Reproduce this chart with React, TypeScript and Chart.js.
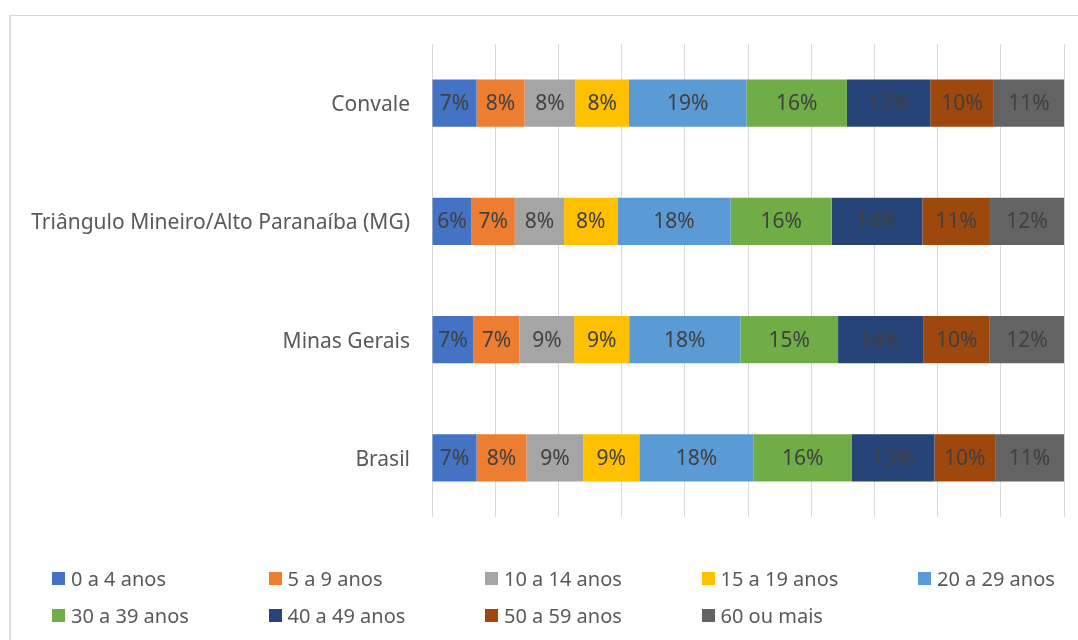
import React, { useEffect, useRef } from "react";
import { Chart, registerables } from "chart.js";

Chart.register(...registerables);

const categories = [
  "Convale",
  "Triângulo Mineiro/Alto Paranaíba (MG)",
  "Minas Gerais",
  "Brasil",
];

const seriesNames = [
  "0 a 4 anos",
  "5 a 9 anos",
  "10 a 14 anos",
  "15 a 19 anos",
  "20 a 29 anos",
  "30 a 39 anos",
  "40 a 49 anos",
  "50 a 59 anos",
  "60 ou mais",
];

const seriesColors = [
  "#4472C4",
  "#ED7D31",
  "#A5A5A5",
  "#FFC000",
  "#5B9BD5",
  "#70AD47",
  "#264478",
  "#9E480E",
  "#636363",
];

// percent shares per region, in category order
const age0to4 = [7.05, 6.25, 6.55, 7.05];
const age5to9 = [7.6, 6.85, 7.3, 7.9];
const age10to14 = [8.05, 7.8, 8.65, 9.0];
const age15to19 = [8.45, 8.45, 8.7, 8.85];
const age20to29 = [18.6, 17.9, 17.6, 18.1];
const age30to39 = [15.9, 16.0, 15.45, 15.55];
const age40to49 = [13.2, 14.35, 13.55, 13.05];
const age50to59 = [10.05, 10.7, 10.45, 9.6];
const age60plus = [11.1, 11.7, 11.75, 10.9];

const seriesValues = [
  age0to4,
  age5to9,
  age10to14,
  age15to19,
  age20to29,
  age30to39,
  age40to49,
  age50to59,
  age60plus,
];

const FONT = "'Noto Sans', 'Open Sans', sans-serif";

const barLabels = {
  id: "barLabels",
  afterDatasetsDraw(chart: any) {
    const ctx = chart.ctx;
    ctx.save();
    ctx.font = `21px ${FONT}`;
    ctx.fillStyle = "#404040";
    ctx.textAlign = "center";
    ctx.textBaseline = "middle";
    chart.data.datasets.forEach((ds: any, di: number) => {
      const meta = chart.getDatasetMeta(di);
      meta.data.forEach((el: any, i: number) => {
        const p = el.getCenterPoint();
        ctx.fillText(`${Math.round(ds.data[i])}%`, p.x, p.y + 1);
      });
    });
    ctx.restore();
  },
};

export default function App() {
  const ref = useRef<HTMLCanvasElement>(null);

  useEffect(() => {
    if (!ref.current) return;
    const chart = new Chart(ref.current, {
      type: "bar",
      data: {
        labels: categories,
        datasets: seriesNames.map((name, i) => ({
          label: name,
          data: seriesValues[i],
          backgroundColor: seriesColors[i],
          borderWidth: 0,
          barPercentage: 0.4,
          categoryPercentage: 1,
        })),
      },
      options: {
        indexAxis: "y",
        responsive: false,
        animation: false,
        layout: { padding: { top: 44, right: 14, bottom: 123, left: 0 } },
        plugins: {
          legend: { display: false },
          tooltip: { enabled: false },
        },
        scales: {
          x: {
            stacked: true,
            min: 0,
            max: 100,
            ticks: { display: false, stepSize: 10 },
            grid: { color: "#d9d9d9", drawTicks: false, lineWidth: 1 },
            border: { display: false },
          },
          y: {
            stacked: true,
            ticks: {
              color: "#595959",
              font: { family: FONT, size: 21 },
              padding: 22,
              labelOffset: 2,
            },
            grid: { display: false, drawTicks: false },
            border: { display: false },
            afterFit: (scale: any) => {
              scale.width = 432;
            },
          },
        },
      },
      plugins: [barLabels],
    });
    return () => chart.destroy();
  }, []);

  return (
    <div
      style={{
        position: "fixed",
        left: 0,
        top: 0,
        width: 1078,
        height: 640,
        background: "#fff",
        overflow: "hidden",
        fontFamily: FONT,
      }}
    >
      <div
        style={{
          position: "absolute",
          left: 9,
          top: 15,
          width: 1100,
          height: 700,
          borderLeft: "2px solid #dcdcdc",
          borderTop: "1px solid #d9d9d9",
        }}
      />
      <canvas
        ref={ref}
        width={1078}
        height={640}
        style={{ position: "absolute", left: 0, top: 0 }}
      />
      {seriesNames.map((name, i) => (
        <div
          key={name}
          style={{
            position: "absolute",
            left: 52 + (i % 5) * 216.5,
            top: 564 + Math.floor(i / 5) * 37,
            height: 28,
            display: "flex",
            alignItems: "center",
            whiteSpace: "nowrap",
            fontSize: 20,
            color: "#595959",
          }}
        >
          <span
            style={{
              display: "inline-block",
              width: 13,
              height: 13,
              background: seriesColors[i],
              marginRight: 6,
            }}
          />
          {name}
        </div>
      ))}
    </div>
  );
}
